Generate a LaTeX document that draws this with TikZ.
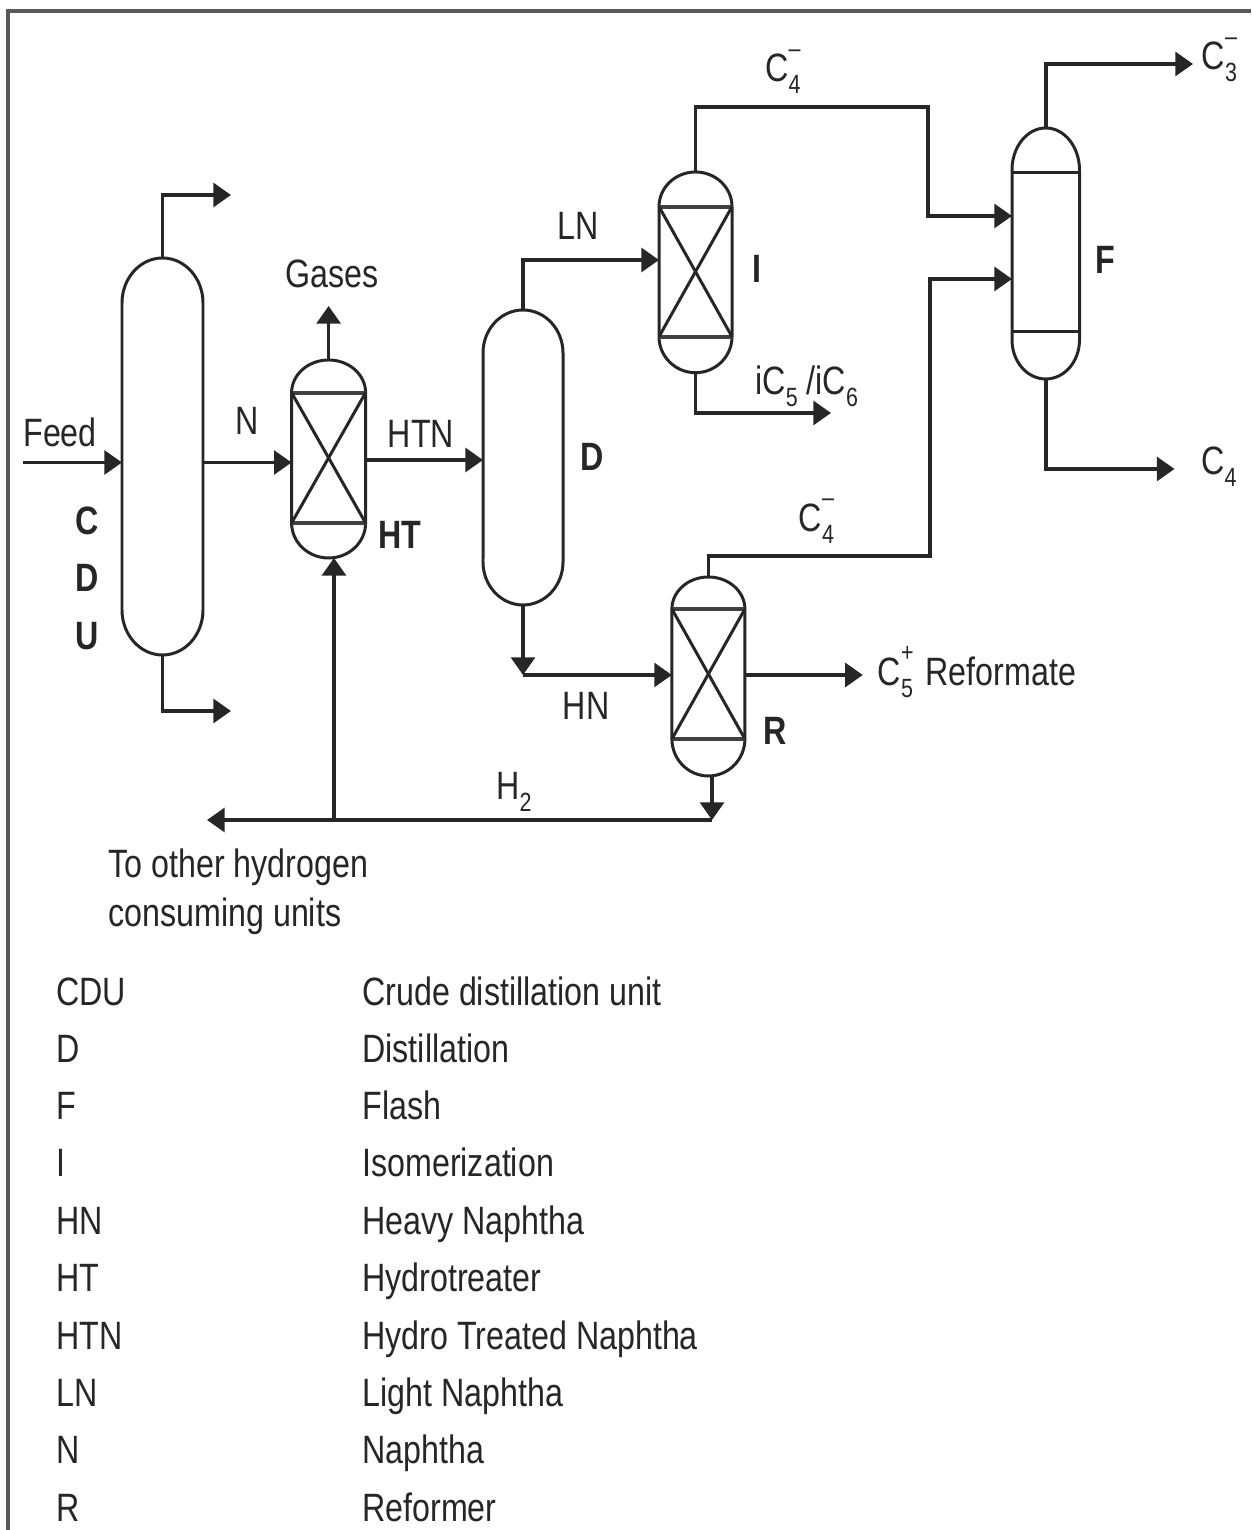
\documentclass[tikz,border=0pt]{standalone}
\usepackage{fontspec}
\setmainfont[FakeStretch=0.815]{Liberation Sans}
\usetikzlibrary{arrows.meta}
\newcommand{\spc}[3]{#1\rlap{\raisebox{0.62em}{\fontsize{15}{15}\selectfont #3}}\raisebox{-0.3em}{\fontsize{15}{15}\selectfont #2}}

\begin{document}
\begin{tikzpicture}
            \tikzstyle{line} = [line width=1.7pt, color=black!85]
            \tikzstyle{bed} = [line width=2.3pt, color=black!75]
            \tikzstyle{flow} = [line, line width=2pt, -{Triangle[length=10pt, width=13.5pt]}]
            \tikzstyle{vessel} = [inner sep=0pt, outer sep=0pt]
            \tikzstyle{lab} = [inner sep=0pt, anchor=base, text=black!85, font=\fontsize{22.5}{25}\selectfont]
            \tikzstyle{labw} = [lab, anchor=base west]
            \tikzstyle{unit} = [lab, font=\fontsize{22.5}{25}\selectfont\bfseries]
            \useasboundingbox (0, 0) rectangle (25.02, 30.6);
            \draw[line width=2pt, color=black!65] (0.16, 0) -- (0.16, 30.38) -- (25.02, 30.38);
            % vessels
            \node[vessel, minimum width=1.62cm, minimum height=7.94cm] (cdu) at (3.25, 21.47) {};
            \node[vessel, minimum width=1.48cm, minimum height=3.96cm] (ht) at (6.572, 21.42) {};
            \node[vessel, minimum width=1.6cm, minimum height=5.9cm] (d) at (10.46, 21.45) {};
            \node[vessel, minimum width=1.46cm, minimum height=4.014cm] (i) at (13.91, 25.153) {};
            \node[vessel, minimum width=1.46cm, minimum height=3.98cm] (r) at (14.168, 17.07) {};
            \node[vessel, minimum width=1.35cm, minimum height=5.02cm] (f) at (20.915, 25.53) {};
            \draw[line] (2.44, 24.54) arc[start angle=180, end angle=0, x radius=0.81cm, y radius=0.9cm] -- (4.06, 18.4) arc[start angle=0, end angle=-180, x radius=0.81cm, y radius=0.9cm] -- cycle;
            \draw[line] (5.832, 22.746) arc[start angle=180, end angle=0, x radius=0.74cm, y radius=0.654cm] -- (7.312, 20.14) arc[start angle=0, end angle=-180, x radius=0.74cm, y radius=0.7cm] -- cycle;
            \draw[line] (9.66, 23.54) arc[start angle=180, end angle=0, x radius=0.8cm, y radius=0.86cm] -- (11.26, 19.36) arc[start angle=0, end angle=-180, x radius=0.8cm, y radius=0.86cm] -- cycle;
            \draw[line] (13.18, 26.466) arc[start angle=180, end angle=0, x radius=0.73cm, y radius=0.694cm] -- (14.64, 23.866) arc[start angle=0, end angle=-180, x radius=0.73cm, y radius=0.72cm] -- cycle;
            \draw[line] (13.438, 18.42) arc[start angle=180, end angle=0, x radius=0.73cm, y radius=0.64cm] -- (14.898, 15.82) arc[start angle=0, end angle=-180, x radius=0.73cm, y radius=0.74cm] -- cycle;
            \draw[line] (20.24, 27.2) arc[start angle=180, end angle=0, x radius=0.675cm, y radius=0.84cm] -- (21.59, 23.8) arc[start angle=0, end angle=-180, x radius=0.675cm, y radius=0.78cm] -- cycle;
            % beds
            \draw[bed] (5.832, 22.746) -- (7.312, 22.746);
            \draw[bed] (5.832, 20.14) -- (7.312, 20.14);
            \draw[line] (5.832, 22.746) -- (7.312, 20.14);
            \draw[line] (7.312, 22.746) -- (5.832, 20.14);
            \draw[bed] (13.18, 26.466) -- (14.64, 26.466);
            \draw[bed] (13.18, 23.866) -- (14.64, 23.866);
            \draw[line] (13.18, 26.466) -- (14.64, 23.866);
            \draw[line] (14.64, 26.466) -- (13.18, 23.866);
            \draw[bed] (13.438, 18.42) -- (14.898, 18.42);
            \draw[bed] (13.438, 15.82) -- (14.898, 15.82);
            \draw[line] (13.438, 18.42) -- (14.898, 15.82);
            \draw[line] (14.898, 18.42) -- (13.438, 15.82);
            \draw[line] (20.24, 27.14) -- (21.59, 27.14);
            \draw[line] (20.24, 23.966) -- (21.59, 23.966);
            % free ends
            \coordinate (feedin) at (0.46, 21.35);
            \coordinate (cdutop) at (4.62, 26.7);
            \coordinate (cdubot) at (4.62, 16.38);
            \coordinate (gasout) at (6.572, 24.48);
            \coordinate (htnout) at (8, 21.4);
            \coordinate (lnout) at (12, 25.4);
            \coordinate (ctop) at (18.56, 28.46);
            \coordinate (fin) at (20, 26.28);
            \coordinate (cmid) at (18.6, 19.48);
            \coordinate (fintwo) at (20, 25.02);
            \coordinate (cthree) at (23.86, 29.32);
            \coordinate (cfour) at (23.49, 21.22);
            \coordinate (iso) at (16.62, 22.34);
            \coordinate (hnturn) at (10.46, 17.1);
            \coordinate (refout) at (17.256, 17.1);
            \coordinate (hend) at (14.24, 14.2);
            \coordinate (hout) at (4.14, 14.2);
            \coordinate (hsplit) at (6.68, 14.2);
            % streams
            \draw[flow] (feedin) -- (feedin -| cdu.west);
            \draw[flow] (cdu.north) |- (cdutop);
            \draw[flow] (cdu.south) |- (cdubot);
            \draw[flow] (cdu.east |- feedin) -- (ht.west |- feedin);
            \draw[flow] (ht.north) -- (gasout);
            \draw[flow] (ht.east |- htnout) -- (d.west |- htnout);
            \draw[flow] (d.north) |- (i.west |- lnout);
            \draw[flow] (i.north) |- (ctop) |- (f.west |- fin);
            \draw[flow] (r.north) |- (cmid) |- (f.west |- fintwo);
            \draw[flow] (i.south) |- (iso);
            \draw[flow] (f.north) |- (cthree);
            \draw[flow] (f.south) |- (cfour);
            \draw[flow] (d.south) -- (hnturn);
            \draw[flow] (hnturn) -- (r.west |- hnturn);
            \draw[flow] (r.east |- hnturn) -- (refout);
            \draw[flow] (r.south -| hend) -- (hend);
            \draw[flow] (hend) -- (hout);
            \draw[flow] (hsplit) -- (hsplit |- ht.south);
            % stream labels
            \node[labw] (feedlab) at (0.46, 21.66) {Feed};
            \node[lab] (nlab) at (4.94, 21.9) {N};
            \node[lab] (gaslab) at (6.64, 24.84) {Gases};
            \node[lab] (htnlab) at (8.42, 21.64) {HTN};
            \node[lab] (lnlab) at (11.56, 25.8) {LN};
            \node[lab] (hnlab) at (11.72, 16.2) {HN};
            \node[labw] (htwolab) at (9.92, 14.6) {\spc{H}{2}{}};
            \node[labw] (cfourtop) at (15.3, 28.96) {\spc{C}{4}{--}};
            \node[labw] (cthreelab) at (24.03, 29.2) {\spc{C}{3}{--}};
            \node[labw] (cfourlab) at (24.02, 21.1) {\spc{C}{4}{}};
            \node[labw] (cfourmid) at (15.97, 19.97) {\spc{C}{4}{--}};
            \node[labw] (isolab) at (15.1, 22.7) {i\spc{C}{5}{} /i\spc{C}{6}{}};
            \node[labw] (reflab) at (17.55, 16.88) {\spc{C}{5}{+}\hspace{2pt} Reformate};
            \node[labw] (otherone) at (2.16, 13.04) {To other hydrogen};
            \node[labw] (othertwo) at (2.16, 12.06) {consuming units};
            % unit labels
            \node[unit] (cone) at (1.74, 19.9) {C};
            \node[unit] (ctwo) at (1.74, 18.76) {D};
            \node[unit] (cthr) at (1.74, 17.6) {U};
            \node[unit] (htlab) at (8, 19.62) {HT};
            \node[unit] (dlab) at (11.84, 21.18) {D};
            \node[unit] (ilab) at (15.14, 24.94) {I};
            \node[unit] (flab) at (22.1, 25.12) {F};
            \node[unit] (rlab) at (15.5, 15.7) {R};
            % key
            \node[labw] (keya) at (1.12, 10.48) {CDU};
            \node[labw] (texta) at (7.24, 10.48) {Crude distillation unit};
            \node[labw] (keyb) at (1.12, 9.34) {D};
            \node[labw] (textb) at (7.24, 9.34) {Distillation};
            \node[labw] (keyc) at (1.12, 8.2) {F};
            \node[labw] (textc) at (7.24, 8.2) {Flash};
            \node[labw] (keyd) at (1.12, 7.06) {I};
            \node[labw] (textd) at (7.24, 7.06) {Isomerization};
            \node[labw] (keye) at (1.12, 5.9) {HN};
            \node[labw] (texte) at (7.24, 5.9) {Heavy Naphtha};
            \node[labw] (keyf) at (1.12, 4.76) {HT};
            \node[labw] (textf) at (7.24, 4.76) {Hydrotreater};
            \node[labw] (keyg) at (1.12, 3.6) {HTN};
            \node[labw] (textg) at (7.24, 3.6) {Hydro Treated Naphtha};
            \node[labw] (keyh) at (1.12, 2.46) {LN};
            \node[labw] (texth) at (7.24, 2.46) {Light Naphtha};
            \node[labw] (keyi) at (1.12, 1.32) {N};
            \node[labw] (texti) at (7.24, 1.32) {Naphtha};
            \node[labw] (keyj) at (1.12, 0.18) {R};
            \node[labw] (textj) at (7.24, 0.18) {Reformer};
        \end{tikzpicture}
\end{document}
